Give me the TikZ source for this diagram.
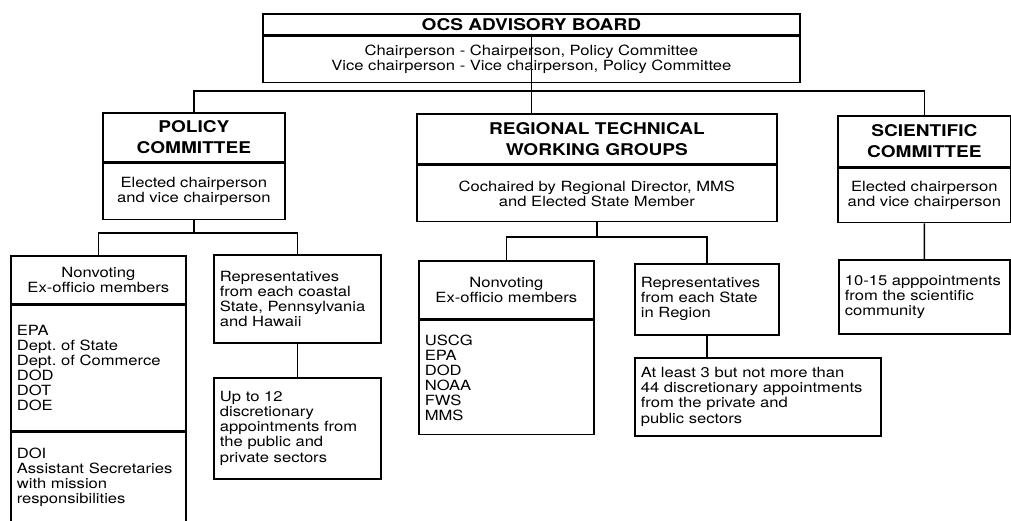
\documentclass[tikz,border=0pt]{standalone}
\usepackage{fontspec}
\setmainfont{TeX Gyre Heros}[FakeStretch=1.18]
\usepackage{tikz}
\frenchspacing

\def\pxu{0.025cm}
\tikzset{
  cell/.style 2 args={draw, line width=1.2pt, anchor=north west, inner xsep=6*\pxu, inner ysep=0pt,
    minimum width=#1*\pxu, minimum height=#2*\pxu},
  head/.style={font=\fontsize{11.5}{15}\selectfont\bfseries, align=center},
  body/.style={font=\fontsize{10}{10.7}\selectfont, align=center},
  list/.style={font=\fontsize{10}{10.7}\selectfont, align=left, text width=#1},
  link/.style={line width=1.2pt}
}

\begin{document}
\begin{tikzpicture}[x=\pxu, y=-\pxu]
\useasboundingbox[fill=white] (0,0) rectangle (1011,520);
\node[cell={537}{21}, head] (board) at (262,13) {OCS ADVISORY BOARD};
\node[cell={537}{46}, body] (boardb) at (board.south west) {Chairperson - Chairperson, Policy Committee\\Vice chairperson - Vice chairperson, Policy Committee};
\node[cell={182}{49}, head] (pol) at (102,112) {POLICY\\COMMITTEE};
\node[cell={182}{56}, body] (polb) at (pol.south west) {Elected chairperson\\and vice chairperson};
\node[cell={360}{50}, head] (reg) at (416,113) {REGIONAL TECHNICAL\\WORKING GROUPS};
\node[cell={360}{56}, body] (regb) at (reg.south west) {Cochaired by Regional Director, MMS\\and Elected State Member};
\node[cell={173}{51}, head] (sci) at (837,115) {SCIENTIFIC\\COMMITTEE};
\node[cell={173}{54}, body] (scib) at (sci.south west) {Elected chairperson\\and vice chairperson};
\node[cell={175}{48}, body] (pnon) at (10,255) {Nonvoting\\Ex-officio members};
\node[cell={175}{125}, list=4.075cm] (pnonl) at (pnon.south west) {EPA\\Dept. of State\\Dept. of Commerce\\DOD\\DOT\\DOE};
\node[cell={175}{90}, list=4.075cm] (pdoi) at (pnonl.south west) {DOI\\Assistant Secretaries\\with mission\\responsibilities};
\node[cell={167}{88}, list=3.875cm] (prep) at (213,254) {Representatives\\from each coastal\\State, Pennsylvania\\and Hawaii};
\node[cell={167}{101}, list=3.875cm] (pupto) at (213,377) {Up to 12\\discretionary\\appointments from\\the public and\\private sectors};
\node[cell={175}{58}, body] (rnon) at (418,260) {Nonvoting\\Ex-officio members};
\node[cell={175}{114}, list=4.075cm] (rnonl) at (rnon.south west) {USCG\\EPA\\DOD\\NOAA\\FWS\\MMS};
\node[cell={144}{71}, list=3.3cm] (rrep) at (634,263) {Representatives\\from each State\\in Region};
\node[cell={246}{78}, list=5.85cm] (ratl) at (634,357) {At least 3 but not more than\\44 discretionary appointments\\from the private and\\public sectors};
\node[cell={171}{74}, list=3.975cm] (ssub) at (838,259) {10-15 apppointments\\from the scientific\\community};

\coordinate (bus) at (board.south |- 0,91);
\draw[link] (board.south) -- (board.south |- reg.north);
\draw[link] (pol.north) |- (bus) -| (sci.north);
\coordinate (pbus) at (polb.south |- 0,233);
\draw[link] (polb.south) -- (pbus);
\draw[link] (pnon.north) |- (pbus) -| (prep.north);
\draw[link] (prep.south) -- (pupto.north);
\coordinate (rbus) at (regb.south |- 0,237);
\draw[link] (regb.south) -- (rbus);
\draw[link] (rnon.north) |- (rbus) -| (rrep.north);
\draw[link] (rrep.south) -- (rrep.south |- ratl.north);
\draw[link] (scib.south) -- (ssub.north);
\end{tikzpicture}
\end{document}
